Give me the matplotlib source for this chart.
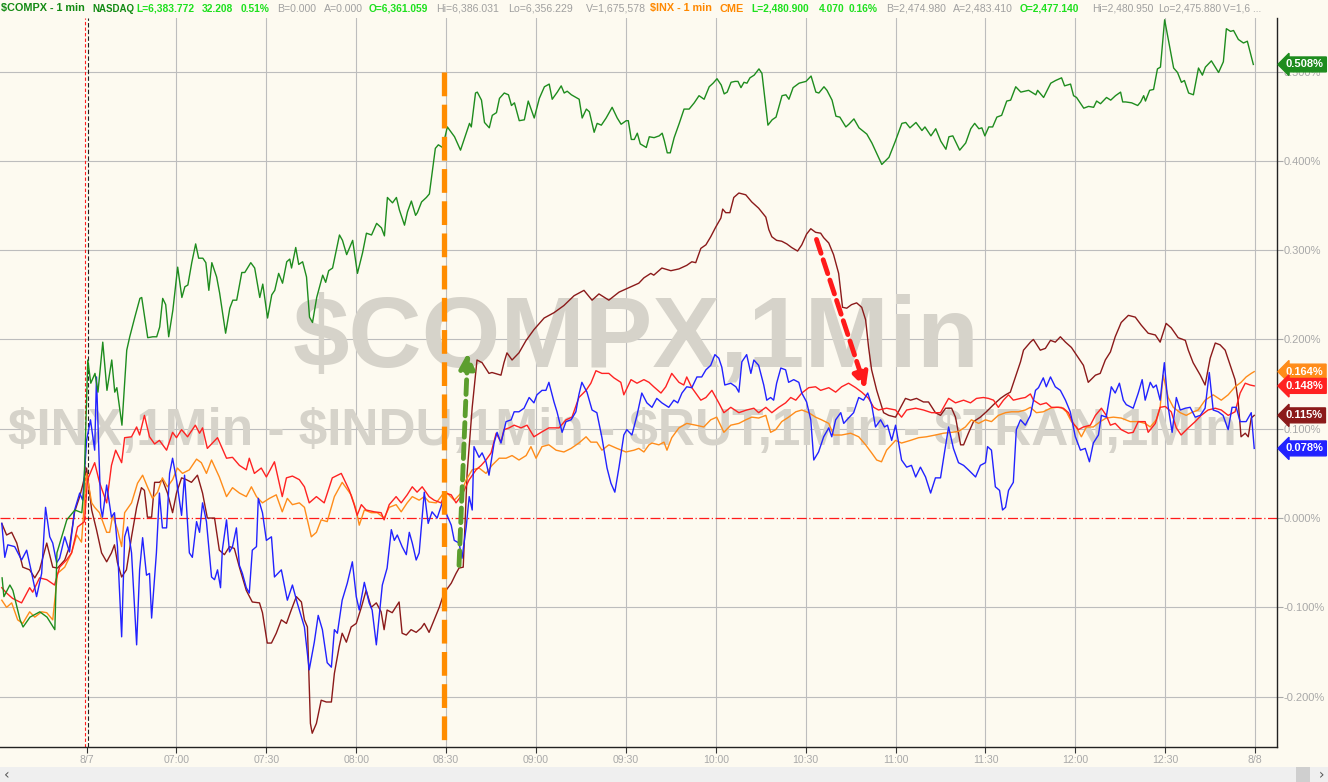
import matplotlib
matplotlib.use('Agg')
import matplotlib.pyplot as plt
from matplotlib.patches import Rectangle

# minutes after 06:00, % change from prior close
compx = [(1.8, -0.067), (2.4, -0.088), (4.4, -0.075), (5.4, -0.081), (7.8, -0.114), (8.8, -0.122),
         (11.1, -0.111), (14.4, -0.105), (16.8, -0.111), (19.4, -0.125), (20.1, -0.039), (23.4, -0.002),
         (26.1, 0.009), (28.4, 0.006), (29.1, 0.031), (30.4, 0.177), (31.4, 0.151), (32.8, 0.162),
         (33.8, 0.141), (35.4, 0.197), (36.8, 0.143), (38.4, 0.177), (39.4, 0.141), (40.1, 0.146),
         (41.8, 0.104), (43.4, 0.188), (44.4, 0.203), (46.1, 0.225), (47.8, 0.246), (48.4, 0.247),
         (50.4, 0.202), (52.1, 0.203), (53.4, 0.203), (54.4, 0.214), (55.4, 0.246), (56.4, 0.239),
         (57.4, 0.203), (58.8, 0.233), (60.4, 0.281), (61.8, 0.247), (62.8, 0.259), (63.8, 0.261),
         (65.1, 0.286), (66.4, 0.307), (67.4, 0.291), (68.8, 0.291), (69.8, 0.286), (70.8, 0.255),
         (71.8, 0.286), (73.4, 0.270), (74.4, 0.252), (76.4, 0.207), (77.8, 0.235), (78.8, 0.244),
         (80.1, 0.244), (81.8, 0.275), (82.8, 0.275), (84.8, 0.286), (86.1, 0.280), (87.8, 0.247),
         (88.8, 0.262), (90.4, 0.224), (91.8, 0.250), (92.8, 0.255), (94.1, 0.274), (95.4, 0.263),
         (96.8, 0.287), (97.8, 0.290), (98.4, 0.280), (99.8, 0.303), (100.8, 0.284), (102.1, 0.287),
         (103.4, 0.270), (104.4, 0.225), (105.4, 0.219), (106.8, 0.247), (108.8, 0.272), (109.8, 0.264),
         (110.8, 0.277), (112.1, 0.280), (114.4, 0.317), (115.4, 0.311), (116.8, 0.295), (118.8, 0.311),
         (120.4, 0.274), (122.1, 0.297), (123.4, 0.319), (125.1, 0.317), (126.8, 0.330), (128.4, 0.325),
         (129.4, 0.316), (130.4, 0.359), (132.1, 0.353), (133.4, 0.359), (134.4, 0.345), (136.1, 0.328),
         (137.1, 0.343), (138.4, 0.355), (139.8, 0.339), (140.4, 0.342), (141.8, 0.354), (143.4, 0.359),
         (144.4, 0.363), (146.4, 0.414), (147.4, 0.418), (148.8, 0.415), (150.4, 0.438), (152.8, 0.427),
         (154.8, 0.412), (155.4, 0.418), (157.8, 0.442), (158.4, 0.438), (159.8, 0.476), (160.4, 0.477),
         (161.8, 0.468), (162.8, 0.443), (164.4, 0.437), (165.4, 0.451), (166.8, 0.454), (167.8, 0.470),
         (169.4, 0.476), (170.8, 0.474), (171.8, 0.462), (172.8, 0.465), (174.4, 0.445), (176.1, 0.446),
         (177.4, 0.467), (179.4, 0.448), (181.1, 0.470), (182.8, 0.483), (184.4, 0.486), (185.4, 0.469),
         (187.1, 0.477), (188.4, 0.484), (189.4, 0.476), (190.4, 0.478), (191.8, 0.474), (193.4, 0.471),
         (194.4, 0.469), (195.4, 0.448), (196.8, 0.458), (197.8, 0.455), (199.4, 0.432), (200.4, 0.442),
         (201.8, 0.440), (203.4, 0.448), (205.4, 0.460), (207.1, 0.448), (208.4, 0.441), (210.1, 0.445),
         (210.8, 0.445), (211.8, 0.424), (212.8, 0.424), (213.8, 0.431), (214.8, 0.419), (216.8, 0.415),
         (217.8, 0.427), (219.4, 0.426), (221.1, 0.428), (222.1, 0.431), (222.8, 0.423), (223.8, 0.409),
         (224.8, 0.409), (226.1, 0.426), (227.8, 0.442), (229.4, 0.458), (231.1, 0.458), (232.8, 0.465),
         (234.4, 0.473), (236.1, 0.469), (237.8, 0.483), (239.1, 0.487), (240.4, 0.492), (241.8, 0.485),
         (242.8, 0.475), (243.8, 0.477), (245.1, 0.488), (246.4, 0.489), (247.4, 0.489), (248.4, 0.482),
         (249.4, 0.488), (250.4, 0.487), (251.4, 0.493), (252.8, 0.496), (254.4, 0.503), (255.4, 0.498),
         (257.4, 0.440), (258.8, 0.446), (260.1, 0.449), (262.1, 0.473), (263.4, 0.474), (264.4, 0.469),
         (265.8, 0.482), (267.8, 0.487), (270.1, 0.489), (271.8, 0.495), (273.4, 0.477), (274.4, 0.476),
         (276.1, 0.483), (277.1, 0.479), (278.8, 0.468), (280.1, 0.450), (281.4, 0.449), (283.4, 0.438),
         (284.4, 0.441), (286.1, 0.447), (287.8, 0.437), (290.4, 0.430), (292.1, 0.420), (295.4, 0.396),
         (297.8, 0.404), (299.8, 0.421), (302.1, 0.442), (303.4, 0.443), (304.8, 0.437), (306.8, 0.443),
         (308.8, 0.434), (309.8, 0.438), (311.8, 0.428), (313.4, 0.436), (315.1, 0.422), (316.8, 0.413),
         (317.8, 0.427), (319.1, 0.428), (321.4, 0.412), (323.4, 0.420), (325.1, 0.436), (326.4, 0.442),
         (327.8, 0.436), (328.8, 0.437), (329.8, 0.428), (331.1, 0.438), (332.4, 0.438), (333.8, 0.449),
         (335.4, 0.451), (337.1, 0.467), (338.4, 0.468), (340.1, 0.483), (341.8, 0.477), (344.4, 0.479),
         (346.8, 0.474), (347.4, 0.479), (349.4, 0.471), (351.8, 0.487), (353.4, 0.490), (355.4, 0.493),
         (356.4, 0.484), (358.4, 0.486), (359.4, 0.473), (360.4, 0.471), (362.8, 0.459), (364.4, 0.461),
         (366.1, 0.460), (367.1, 0.467), (368.4, 0.464), (370.4, 0.471), (371.8, 0.468), (373.4, 0.473),
         (375.1, 0.477), (375.8, 0.466), (376.8, 0.466), (378.8, 0.465), (380.8, 0.462), (381.8, 0.466),
         (382.8, 0.473), (383.4, 0.467), (384.8, 0.479), (386.1, 0.480), (387.4, 0.503), (388.4, 0.505),
         (389.8, 0.558), (392.8, 0.504), (394.1, 0.499), (395.4, 0.488), (396.4, 0.490), (397.8, 0.476),
         (399.4, 0.474), (401.1, 0.504), (402.4, 0.496), (403.4, 0.505), (405.4, 0.512), (407.8, 0.499),
         (409.4, 0.511), (410.4, 0.548), (411.8, 0.545), (412.8, 0.546), (414.4, 0.536), (416.1, 0.532),
         (417.4, 0.534), (419.4, 0.508)]

inx = [(1.7, -0.078), (3.3, -0.084), (5.3, -0.090), (8.3, -0.095), (11.0, -0.078), (12.0, -0.083),
       (14.3, -0.067), (16.7, -0.069), (19.3, -0.075), (21.0, -0.055), (23.3, -0.047), (25.0, -0.039),
       (27.0, -0.010), (29.3, -0.004), (30.3, 0.043), (32.7, 0.062), (34.3, 0.040), (36.7, 0.017),
       (38.3, 0.059), (39.7, 0.076), (41.7, 0.062), (42.7, 0.090), (45.0, 0.091), (46.7, 0.102),
       (47.7, 0.093), (49.3, 0.115), (51.0, 0.091), (52.7, 0.083), (54.3, 0.087), (56.7, 0.076),
       (58.7, 0.096), (60.0, 0.090), (61.7, 0.099), (63.7, 0.091), (66.3, 0.104), (67.7, 0.095),
       (68.7, 0.101), (70.3, 0.078), (72.0, 0.084), (73.7, 0.090), (76.7, 0.067), (78.7, 0.068),
       (81.0, 0.059), (83.3, 0.054), (84.3, 0.067), (86.0, 0.050), (88.3, 0.056), (90.0, 0.046),
       (92.7, 0.063), (94.3, 0.039), (95.3, 0.024), (96.7, 0.045), (98.7, 0.047), (101.0, 0.043),
       (102.7, 0.035), (104.3, 0.017), (106.7, 0.024), (109.3, 0.017), (112.0, 0.045), (115.0, 0.050),
       (117.7, 0.031), (119.3, 0.015), (120.3, 0.003), (121.7, 0.015), (123.3, 0.009), (126.0, 0.007),
       (128.3, 0.006), (129.3, -0.002), (131.0, 0.015), (133.3, 0.024), (135.0, 0.017), (137.0, 0.026),
       (138.7, 0.035), (140.3, 0.029), (142.0, 0.035), (144.3, 0.024), (146.0, 0.020), (148.3, 0.017),
       (149.7, 0.028), (151.7, 0.026), (153.3, 0.017), (155.3, 0.026), (157.7, 0.043), (160.0, 0.054),
       (161.7, 0.059), (163.3, 0.065), (165.0, 0.073), (166.7, 0.095), (168.3, 0.085), (169.3, 0.099),
       (171.0, 0.101), (172.7, 0.104), (175.0, 0.101), (177.0, 0.104), (179.3, 0.091), (181.7, 0.096),
       (184.3, 0.101), (187.7, 0.101), (190.0, 0.110), (192.0, 0.113), (194.3, 0.135), (196.7, 0.143),
       (198.3, 0.151), (200.0, 0.165), (202.0, 0.162), (204.3, 0.162), (206.0, 0.157), (208.3, 0.152),
       (209.3, 0.138), (211.7, 0.155), (213.7, 0.151), (216.0, 0.155), (217.7, 0.152), (219.3, 0.147),
       (221.7, 0.140), (223.3, 0.147), (225.3, 0.162), (227.7, 0.152), (229.3, 0.149), (230.3, 0.158),
       (232.0, 0.146), (235.0, 0.132), (236.7, 0.135), (238.7, 0.143), (241.0, 0.129), (242.7, 0.118),
       (245.0, 0.124), (247.7, 0.118), (250.3, 0.121), (252.7, 0.123), (254.3, 0.118), (256.7, 0.124),
       (258.7, 0.118), (261.0, 0.124), (263.3, 0.129), (265.0, 0.135), (266.7, 0.132), (268.7, 0.140),
       (271.0, 0.146), (273.3, 0.147), (275.0, 0.143), (277.7, 0.146), (280.0, 0.141), (282.0, 0.147),
       (284.3, 0.151), (286.7, 0.146), (288.7, 0.141), (291.0, 0.134), (292.7, 0.124), (294.3, 0.121),
       (297.0, 0.123), (300.0, 0.121), (302.0, 0.113), (303.7, 0.121), (306.7, 0.123), (309.3, 0.121),
       (312.0, 0.118), (315.0, 0.118), (317.7, 0.134), (320.0, 0.129), (322.7, 0.132), (325.0, 0.129),
       (327.0, 0.134), (329.3, 0.135), (331.0, 0.134), (332.7, 0.132), (334.3, 0.124), (336.0, 0.132),
       (337.7, 0.138), (339.3, 0.132), (341.7, 0.134), (343.3, 0.135), (345.0, 0.139), (346.0, 0.132),
       (348.3, 0.127), (350.3, 0.129), (352.0, 0.124), (354.3, 0.124), (356.0, 0.123), (357.7, 0.118),
       (359.3, 0.106), (361.0, 0.099), (362.7, 0.102), (365.0, 0.104), (366.7, 0.115), (368.7, 0.123),
       (370.3, 0.115), (371.7, 0.104), (373.3, 0.106), (375.3, 0.099), (377.7, 0.095), (379.3, 0.096),
       (381.0, 0.108), (383.3, 0.108), (384.3, 0.096), (386.7, 0.106), (388.3, 0.124), (390.0, 0.125),
       (392.0, 0.119), (393.7, 0.101), (395.3, 0.093), (397.7, 0.101), (400.0, 0.108), (402.0, 0.115),
       (404.3, 0.121), (406.7, 0.123), (408.7, 0.121), (411.0, 0.115), (413.3, 0.119), (415.0, 0.140),
       (416.7, 0.151), (418.3, 0.149), (419.7, 0.148)]

indu = [(1.7, -0.092), (3.3, -0.100), (5.0, -0.095), (7.0, -0.114), (8.7, -0.118), (11.0, -0.105),
        (12.7, -0.111), (15.0, -0.105), (16.7, -0.106), (18.7, -0.114), (20.3, -0.062), (22.7, -0.055),
        (25.0, -0.039), (26.7, -0.019), (28.3, -0.027), (30.0, 0.050), (31.7, 0.017), (32.7, 0.012),
        (34.3, 0.006), (36.7, -0.016), (37.7, -0.016), (38.7, 0.003), (40.3, -0.013), (41.7, -0.032),
        (42.7, 0.006), (45.0, 0.017), (47.0, 0.039), (48.7, 0.048), (50.3, 0.035), (52.0, 0.022),
        (53.7, 0.029), (55.3, 0.045), (57.0, 0.035), (58.7, 0.043), (60.3, 0.056), (62.0, 0.050),
        (64.3, 0.054), (66.7, 0.066), (68.3, 0.062), (70.0, 0.050), (71.7, 0.065), (74.3, 0.046),
        (76.7, 0.024), (78.7, 0.034), (81.0, 0.028), (83.3, 0.024), (85.0, 0.035), (86.7, 0.024),
        (88.7, 0.017), (91.0, 0.022), (93.3, 0.026), (95.3, 0.007), (97.0, 0.022), (98.7, 0.015),
        (101.0, 0.017), (102.7, 0.012), (105.0, -0.021), (106.7, -0.016), (108.3, -0.002), (110.3, -0.004),
        (112.7, 0.024), (115.3, 0.040), (118.3, 0.026), (120.0, 0.009), (121.0, -0.008), (122.7, 0.009),
        (125.0, 0.006), (127.0, 0.006), (129.3, 0.000), (131.0, 0.012), (133.3, 0.015), (135.0, 0.007),
        (137.0, 0.017), (138.7, 0.024), (141.0, 0.020), (142.7, 0.024), (144.3, 0.018), (146.7, 0.017),
        (148.7, 0.026), (150.3, 0.028), (152.7, 0.020), (155.0, 0.028), (156.7, 0.043), (158.7, 0.054),
        (161.0, 0.056), (163.3, 0.050), (165.3, 0.059), (167.7, 0.067), (170.0, 0.067), (172.0, 0.070),
        (174.3, 0.065), (176.7, 0.070), (178.3, 0.080), (180.0, 0.067), (182.0, 0.080), (184.3, 0.082),
        (186.7, 0.076), (189.3, 0.074), (191.7, 0.078), (194.3, 0.084), (196.7, 0.091), (198.3, 0.085),
        (200.3, 0.085), (202.0, 0.076), (204.3, 0.082), (207.0, 0.078), (210.0, 0.074), (212.7, 0.076),
        (214.3, 0.078), (216.0, 0.074), (217.7, 0.082), (218.7, 0.084), (221.0, 0.082), (222.7, 0.085),
        (223.7, 0.076), (225.3, 0.090), (227.7, 0.101), (230.3, 0.106), (233.3, 0.104), (236.0, 0.102),
        (238.3, 0.110), (240.3, 0.113), (242.7, 0.096), (245.0, 0.104), (247.7, 0.106), (250.0, 0.110),
        (252.0, 0.113), (254.3, 0.112), (256.7, 0.115), (258.3, 0.096), (260.0, 0.099), (262.0, 0.108),
        (264.3, 0.113), (266.7, 0.119), (268.7, 0.121), (271.0, 0.118), (273.3, 0.113), (275.3, 0.110),
        (277.7, 0.106), (279.3, 0.093), (282.0, 0.093), (285.0, 0.095), (287.7, 0.091), (290.0, 0.082),
        (292.0, 0.073), (293.7, 0.065), (295.3, 0.063), (297.0, 0.076), (300.0, 0.087), (302.0, 0.084),
        (305.0, 0.087), (307.7, 0.090), (310.3, 0.091), (313.3, 0.093), (316.0, 0.095), (318.7, 0.096),
        (321.0, 0.097), (323.3, 0.102), (325.3, 0.110), (327.7, 0.106), (330.0, 0.110), (332.0, 0.108),
        (334.3, 0.115), (336.7, 0.118), (338.7, 0.119), (341.0, 0.119), (343.3, 0.121), (345.0, 0.124),
        (347.0, 0.118), (349.3, 0.119), (351.7, 0.123), (353.7, 0.124), (355.3, 0.124), (357.0, 0.119),
        (358.7, 0.108), (360.3, 0.102), (362.0, 0.091), (363.7, 0.102), (366.0, 0.102), (368.3, 0.108),
        (370.3, 0.112), (372.7, 0.113), (375.3, 0.112), (378.3, 0.108), (381.0, 0.108), (383.3, 0.106),
        (385.0, 0.102), (387.0, 0.110), (388.3, 0.124), (389.3, 0.160), (391.0, 0.135), (392.7, 0.124),
        (395.0, 0.118), (397.0, 0.115), (398.7, 0.118), (401.0, 0.121), (403.3, 0.132), (406.0, 0.138),
        (408.7, 0.132), (411.0, 0.138), (413.3, 0.147), (415.3, 0.152), (417.0, 0.158), (418.7, 0.162),
        (419.7, 0.164)]

rut = [(1.7, -0.006), (3.3, -0.019), (5.0, -0.016), (6.7, -0.028), (8.7, -0.055), (11.0, -0.058),
       (12.7, -0.067), (14.3, -0.058), (16.7, -0.028), (18.7, -0.055), (20.3, -0.056), (22.7, -0.047),
       (24.3, -0.032), (26.0, 0.007), (27.7, 0.024), (28.7, 0.037), (30.0, 0.056), (31.7, 0.009),
       (33.3, -0.013), (35.0, -0.039), (36.7, -0.049), (38.3, -0.039), (39.3, -0.030), (40.3, -0.050),
       (41.7, -0.066), (43.3, -0.058), (45.0, -0.021), (46.7, 0.012), (48.3, 0.034), (49.3, 0.031),
       (50.3, 0.001), (51.7, 0.001), (52.7, 0.040), (54.3, 0.040), (55.3, 0.043), (57.0, 0.028),
       (58.7, 0.006), (60.0, 0.028), (61.7, 0.045), (63.3, 0.043), (65.0, 0.040), (67.0, 0.048),
       (68.7, 0.028), (70.3, 0.000), (72.7, 0.000), (74.3, -0.036), (76.0, -0.041), (77.7, -0.032),
       (79.3, -0.034), (81.0, -0.055), (83.3, -0.081), (85.3, -0.094), (87.7, -0.095), (88.7, -0.106),
       (90.3, -0.140), (91.7, -0.140), (93.3, -0.129), (95.0, -0.114), (96.7, -0.118), (98.3, -0.103),
       (100.0, -0.088), (101.7, -0.094), (102.7, -0.114), (103.7, -0.122), (104.7, -0.230), (105.3, -0.241),
       (106.7, -0.230), (108.3, -0.204), (110.0, -0.206), (111.7, -0.206), (112.7, -0.174), (114.3, -0.144),
       (115.3, -0.129), (116.7, -0.139), (118.3, -0.122), (120.0, -0.118), (121.7, -0.100), (123.3, -0.081),
       (125.0, -0.100), (126.7, -0.095), (128.3, -0.105), (129.3, -0.125), (130.3, -0.103), (132.0, -0.106),
       (134.3, -0.094), (135.3, -0.129), (136.7, -0.131), (138.3, -0.125), (140.0, -0.128), (141.7, -0.123),
       (142.7, -0.118), (144.3, -0.128), (146.0, -0.114), (147.7, -0.100), (149.3, -0.084), (151.7, -0.073),
       (153.3, -0.062), (154.3, -0.056), (155.7, -0.055), (157.0, 0.050), (158.7, 0.124), (160.3, 0.177),
       (162.0, 0.174), (164.3, 0.162), (165.3, 0.163), (168.3, 0.160), (169.3, 0.174), (170.3, 0.185),
       (172.0, 0.177), (174.3, 0.185), (176.7, 0.199), (179.3, 0.211), (182.7, 0.224), (186.0, 0.230),
       (189.3, 0.238), (192.7, 0.249), (196.0, 0.255), (198.7, 0.244), (201.0, 0.251), (204.3, 0.244),
       (207.7, 0.253), (211.0, 0.258), (214.3, 0.263), (216.0, 0.269), (218.3, 0.274), (219.3, 0.272),
       (222.0, 0.280), (225.0, 0.277), (227.7, 0.279), (230.3, 0.283), (232.0, 0.287), (233.3, 0.286),
       (235.0, 0.302), (236.7, 0.306), (238.3, 0.315), (240.0, 0.326), (241.7, 0.336), (242.3, 0.346),
       (243.3, 0.342), (244.7, 0.342), (246.0, 0.359), (247.7, 0.364), (250.0, 0.362), (252.0, 0.354),
       (254.3, 0.347), (256.7, 0.337), (257.7, 0.323), (258.7, 0.315), (260.3, 0.311), (262.0, 0.310),
       (263.7, 0.307), (265.3, 0.303), (267.3, 0.299), (268.7, 0.306), (270.3, 0.318), (271.7, 0.324),
       (273.3, 0.320), (275.0, 0.319), (276.0, 0.314), (277.7, 0.308), (279.3, 0.295), (281.0, 0.274),
       (282.3, 0.236), (283.7, 0.235), (285.3, 0.239), (287.0, 0.241), (288.7, 0.236), (290.0, 0.222),
       (291.0, 0.191), (292.0, 0.166), (293.7, 0.143), (296.0, 0.118), (297.7, 0.115), (300.0, 0.113),
       (301.7, 0.124), (303.3, 0.134), (305.0, 0.132), (307.0, 0.134), (309.3, 0.130), (311.0, 0.130),
       (313.3, 0.118), (315.0, 0.115), (316.7, 0.123), (318.7, 0.123), (320.0, 0.113), (321.7, 0.082),
       (322.7, 0.082), (324.3, 0.095), (326.0, 0.108), (328.3, 0.113), (330.3, 0.119), (332.7, 0.127),
       (335.0, 0.134), (336.7, 0.138), (338.3, 0.141), (340.0, 0.158), (341.7, 0.175), (342.7, 0.188),
       (345.0, 0.197), (346.0, 0.200), (348.3, 0.188), (350.0, 0.190), (351.7, 0.199), (353.3, 0.197),
       (355.0, 0.203), (356.7, 0.197), (358.7, 0.191), (360.3, 0.183), (362.7, 0.171), (364.3, 0.152),
       (366.7, 0.160), (368.3, 0.162), (370.0, 0.177), (371.7, 0.186), (373.3, 0.203), (375.3, 0.219),
       (377.7, 0.227), (380.0, 0.225), (382.0, 0.216), (384.3, 0.207), (386.7, 0.205), (388.3, 0.197),
       (390.3, 0.218), (392.0, 0.213), (394.3, 0.202), (396.7, 0.199), (397.7, 0.188), (399.3, 0.174),
       (401.7, 0.160), (403.3, 0.149), (405.0, 0.179), (406.7, 0.196), (408.3, 0.194), (410.0, 0.188),
       (411.7, 0.171), (413.3, 0.155), (414.3, 0.132), (415.3, 0.091), (416.7, 0.095), (417.7, 0.091),
       (418.7, 0.112), (419.7, 0.115)]

tran = [(1.7, -0.006), (2.7, -0.044), (3.7, -0.030), (6.0, -0.032), (8.3, -0.047), (10.0, -0.036),
        (11.7, -0.062), (13.3, -0.088), (15.0, -0.062), (16.3, 0.012), (17.7, -0.021), (18.7, -0.028),
        (20.0, -0.050), (21.0, -0.045), (22.7, -0.021), (24.3, -0.038), (26.0, 0.009), (27.7, 0.028),
        (28.7, 0.020), (30.0, 0.087), (31.3, 0.110), (32.7, 0.076), (33.3, 0.158), (34.7, 0.012),
        (35.3, 0.001), (36.7, 0.037), (38.3, 0.001), (39.3, 0.006), (40.3, -0.032), (41.7, -0.133),
        (42.7, -0.021), (43.7, -0.010), (45.0, -0.039), (46.7, -0.142), (47.7, -0.058), (48.7, -0.022),
        (50.0, -0.064), (51.0, -0.062), (51.7, -0.112), (53.3, -0.039), (54.3, 0.028), (55.3, -0.011),
        (56.7, -0.011), (57.7, 0.050), (58.7, 0.067), (60.0, 0.043), (61.7, 0.003), (62.7, 0.048),
        (64.3, -0.039), (65.3, -0.044), (66.7, -0.004), (67.7, -0.016), (68.7, 0.017), (70.0, -0.004),
        (71.7, -0.066), (72.7, -0.069), (73.7, -0.058), (74.7, -0.078), (75.3, -0.036), (76.7, -0.002),
        (77.7, -0.038), (78.7, -0.032), (80.0, -0.011), (81.0, -0.053), (82.0, -0.062), (83.3, -0.078),
        (84.3, -0.084), (85.3, -0.036), (86.7, -0.032), (87.3, 0.022), (88.7, 0.006), (90.0, -0.025),
        (91.7, -0.021), (92.7, -0.066), (95.0, -0.058), (97.0, -0.092), (98.7, -0.075), (100.3, -0.095),
        (102.7, -0.122), (104.3, -0.170), (106.0, -0.139), (107.3, -0.109), (108.7, -0.125), (110.3, -0.162),
        (111.7, -0.167), (112.7, -0.125), (113.7, -0.129), (115.3, -0.092), (117.0, -0.073), (118.7, -0.049),
        (120.0, -0.088), (121.0, -0.103), (122.7, -0.072), (124.3, -0.095), (125.3, -0.103), (126.7, -0.142),
        (128.7, -0.075), (130.3, -0.056), (131.7, -0.013), (132.7, -0.025), (133.7, -0.019), (135.3, -0.032),
        (136.7, -0.041), (137.7, -0.016), (138.7, -0.028), (140.0, -0.047), (141.0, -0.039), (142.7, 0.029),
        (144.0, -0.006), (145.3, 0.007), (147.0, 0.000), (148.7, 0.017), (150.3, 0.003), (151.7, -0.008),
        (152.7, -0.025), (154.3, -0.028), (155.3, -0.045), (156.7, -0.010), (157.7, 0.024), (158.7, 0.009),
        (159.3, 0.080), (161.0, 0.068), (162.0, 0.073), (163.3, 0.063), (164.3, 0.048), (166.0, 0.084),
        (167.0, 0.096), (168.3, 0.084), (170.0, 0.108), (171.7, 0.110), (172.7, 0.119), (174.3, 0.119),
        (176.0, 0.123), (177.7, 0.135), (179.3, 0.129), (180.3, 0.138), (182.0, 0.143), (183.3, 0.143),
        (184.3, 0.152), (186.0, 0.130), (187.0, 0.119), (188.7, 0.096), (190.0, 0.108), (191.7, 0.110),
        (193.3, 0.119), (194.3, 0.138), (195.3, 0.152), (197.0, 0.141), (198.7, 0.121), (200.3, 0.118),
        (202.0, 0.090), (203.7, 0.056), (205.0, 0.039), (206.3, 0.029), (207.7, 0.057), (209.3, 0.093),
        (210.3, 0.099), (212.0, 0.093), (213.7, 0.115), (215.3, 0.140), (217.0, 0.129), (218.7, 0.124),
        (220.3, 0.134), (222.0, 0.129), (224.3, 0.124), (226.0, 0.132), (227.3, 0.129), (228.7, 0.140),
        (230.3, 0.147), (232.0, 0.146), (233.7, 0.158), (235.3, 0.158), (236.7, 0.166), (238.3, 0.171),
        (239.7, 0.183), (241.0, 0.179), (242.0, 0.169), (243.0, 0.149), (245.0, 0.151), (246.7, 0.147),
        (247.7, 0.141), (248.7, 0.175), (250.3, 0.183), (251.7, 0.162), (252.7, 0.177), (254.3, 0.171),
        (256.0, 0.149), (257.0, 0.132), (258.3, 0.135), (259.3, 0.132), (260.3, 0.151), (261.7, 0.168),
        (263.3, 0.166), (264.3, 0.152), (266.0, 0.155), (267.7, 0.152), (268.7, 0.140), (270.3, 0.130),
        (271.7, 0.110), (272.7, 0.065), (274.3, 0.074), (276.0, 0.091), (277.7, 0.101), (278.7, 0.091),
        (280.0, 0.110), (281.7, 0.118), (282.7, 0.106), (284.3, 0.112), (286.0, 0.118), (287.7, 0.135),
        (289.3, 0.132), (290.7, 0.140), (292.0, 0.127), (293.3, 0.102), (295.0, 0.110), (296.3, 0.102),
        (297.3, 0.104), (298.7, 0.087), (300.0, 0.104), (302.0, 0.065), (303.7, 0.057), (305.3, 0.059),
        (306.7, 0.046), (308.3, 0.057), (310.0, 0.046), (311.7, 0.028), (313.3, 0.045), (315.0, 0.045),
        (316.3, 0.073), (317.7, 0.102), (319.3, 0.078), (321.0, 0.062), (322.7, 0.059), (324.3, 0.054),
        (326.7, 0.046), (328.3, 0.059), (330.0, 0.062), (330.7, 0.080), (332.0, 0.076), (333.3, 0.035),
        (334.7, 0.031), (335.7, 0.009), (336.7, 0.012), (337.7, 0.031), (339.3, 0.040), (340.3, 0.099),
        (341.7, 0.110), (343.3, 0.104), (345.0, 0.115), (346.7, 0.143), (347.7, 0.146), (349.3, 0.157),
        (350.3, 0.147), (351.7, 0.158), (353.3, 0.147), (355.0, 0.143), (356.7, 0.132), (358.3, 0.119),
        (360.0, 0.091), (361.7, 0.076), (363.3, 0.078), (364.7, 0.063), (366.0, 0.084), (367.7, 0.093),
        (368.7, 0.115), (370.3, 0.113), (372.0, 0.147), (373.3, 0.140), (374.7, 0.151), (376.0, 0.132),
        (377.0, 0.127), (379.3, 0.123), (381.0, 0.140), (382.3, 0.155), (383.3, 0.132), (385.0, 0.152),
        (386.0, 0.146), (387.0, 0.149), (388.3, 0.132), (389.7, 0.174), (391.0, 0.124), (392.3, 0.096),
        (393.7, 0.135), (395.0, 0.121), (396.7, 0.123), (398.3, 0.124), (400.0, 0.113), (401.7, 0.115),
        (403.3, 0.123), (404.7, 0.163), (406.0, 0.121), (407.7, 0.119), (409.3, 0.115), (411.0, 0.099),
        (412.3, 0.124), (413.7, 0.124), (415.0, 0.108), (417.0, 0.108), (418.7, 0.118), (419.7, 0.078)]

# last-value tags on the right axis
tag_values = [0.508, 0.164, 0.148, 0.115, 0.078]

tick_minutes = [30, 60, 90, 120, 150, 180, 210, 240, 270, 300, 330, 360, 390, 420]
tick_labels = ['8/7', '07:00', '07:30', '08:00', '08:30', '09:00', '09:30', '10:00',
               '10:30', '11:00', '11:30', '12:00', '12:30', '8/8']
pct_ticks = [-0.2, -0.1, 0.0, 0.1, 0.2, 0.3, 0.4, 0.5]

# header pieces: pixel x, text, colour, weight, size
header = [
    (1, '\\$COMPX - 1 min', '#138a13', 'bold', 7.8), (92, 'NASDAQ', '#138a13', 'bold', 7.0),
    (136, 'L=6,383.772', '#1ee01e', 'bold', 7.4), (202, '32.208', '#1ee01e', 'bold', 7.4),
    (241, '0.51%', '#1ee01e', 'bold', 7.4), (277, 'B=0.000', '#a0a0a0', 'normal', 7.6),
    (324, 'A=0.000', '#a0a0a0', 'normal', 7.6), (369, 'O=6,361.059', '#1ee01e', 'bold', 7.4),
    (436, 'Hi=6,386.031', '#a0a0a0', 'normal', 7.6), (508, 'Lo=6,356.229', '#a0a0a0', 'normal', 7.6),
    (586, 'V=1,675,578', '#a0a0a0', 'normal', 7.6), (650, '\\$INX - 1 min', '#ff8800', 'bold', 7.8),
    (720, 'CME', '#ff8800', 'bold', 7.8), (751, 'L=2,480.900', '#1ee01e', 'bold', 7.4),
    (819, '4.070', '#1ee01e', 'bold', 7.4), (849, '0.16%', '#1ee01e', 'bold', 7.4),
    (886, 'B=2,474.980', '#a0a0a0', 'normal', 7.6), (953, 'A=2,483.410', '#a0a0a0', 'normal', 7.6),
    (1020, 'O=2,477.140', '#1ee01e', 'bold', 7.4), (1092, 'Hi=2,480.950', '#a0a0a0', 'normal', 7.4),
    (1158, 'Lo=2,475.880', '#a0a0a0', 'normal', 7.4), (1223, 'V=1,6 ...', '#a0a0a0', 'normal', 7.4),
]

bg = '#fdfaf0'
cols = {'compx': '#1e8c1e', 'inx': '#ff2222', 'indu': '#ff8c1a', 'rut': '#8b1a1a', 'tran': '#2222ff'}
sans = ['Liberation Sans', 'DejaVu Sans']

W, H = 1328, 782
fig = plt.figure(figsize=(W / 100, H / 100), dpi=100, facecolor=bg)
ax = fig.add_axes([0, 1 - 747 / H, 1277 / W, (747 - 18) / H])
ax.set_facecolor(bg)
ax.set_xlim(1.1, 427.3)
ax.set_ylim(-0.2564, 0.560)

# grid
for t in tick_minutes[1:]:
    ax.axvline(t, color='#bdbdbd', lw=0.8, zorder=0)
for v in pct_ticks:
    if v != 0:
        ax.axhline(v, color='#bdbdbd', lw=0.8, zorder=0)
ax.axhline(0, color='#ff1a1a', lw=0.9, ls=(0, (8, 2, 1, 2)), zorder=1)

# day separator
ax.axvline(29.4, color='#ff1a1a', lw=0.8, ls=(0, (3, 2)), zorder=1)
ax.axvline(30.4, color='#222222', lw=0.8, ls=(0, (4, 2)), zorder=1)

# watermarks
ax.text(0.498, 0.558, '\\$COMPX,1Min', transform=ax.transAxes, ha='center', va='center',
        fontsize=73, fontweight='bold', color='#d6d3ca', family=sans, zorder=0.5)
ax.text(0.487, 0.433, '\\$INX,1Min - \\$INDU,1Min - \\$RUT,1Min - \\$TRAN,1Min',
        transform=ax.transAxes, ha='center', va='center', fontsize=37, fontweight='bold',
        color='#d6d3ca', family=sans, zorder=0.5)

# series
for name, pts in [('rut', rut), ('indu', indu), ('inx', inx), ('tran', tran), ('compx', compx)]:
    t, v = zip(*pts)
    ax.plot(t, v, color=cols[name], lw=1.0, zorder=3)

# event line at 08:30
ax.plot([149.3, 149.3], [0.5, -0.26], color='#ff8c00', lw=3.8, ls=(0, (4.5, 1.6)),
        dash_capstyle='butt', zorder=4)

# annotation arrows
ax.annotate('', xy=(157.2, 0.185), xytext=(154.3, -0.053),
            arrowprops=dict(arrowstyle='-|>,head_length=0.9,head_width=0.45', color='#5c9e2e',
                            lw=3.5, ls=(0, (3, 1.4)), shrinkA=0, shrinkB=0), zorder=5)
ax.annotate('', xy=(290.0, 0.145), xytext=(273.6, 0.312),
            arrowprops=dict(arrowstyle='-|>,head_length=0.9,head_width=0.45', color='#ff1a1a',
                            lw=3.5, ls=(0, (3, 1.4)), shrinkA=0, shrinkB=0), zorder=5)

# axes styling
for s in ['left', 'top']:
    ax.spines[s].set_visible(False)
for s in ['right', 'bottom']:
    ax.spines[s].set_color('#222222')
    ax.spines[s].set_linewidth(1.0)
ax.yaxis.tick_right()
ax.set_yticks(pct_ticks)
ax.set_yticklabels(['%.3f%%' % v for v in pct_ticks])
ax.tick_params(axis='y', colors='#a8a8a8', length=4, pad=1, labelsize=8)
ax.set_xticks(tick_minutes)
ax.set_xticklabels(tick_labels)
ax.tick_params(axis='x', colors='#a8a8a8', length=4, pad=2, labelsize=7.6)
for lab in ax.get_xticklabels() + ax.get_yticklabels():
    lab.set_family(sans)
ax.tick_params(axis='x', color='#333333')

# right-side last value tags
tag_cols = [cols['compx'], cols['indu'], cols['inx'], cols['rut'], cols['tran']]
for v, c in zip(tag_values, tag_cols):
    ax.text(1.0 + 9 / 1277, v, '%.3f%%' % v, transform=ax.get_yaxis_transform(),
            ha='left', va='center', color='white', fontsize=8, fontweight='bold',
            family=sans, clip_on=False, zorder=10,
            bbox=dict(boxstyle='larrow,pad=0.22', fc=c, ec=c))

# header
for x, s, c, wgt, fs in header:
    fig.text(x / W, 1 - 8.5 / H, s, color=c, fontsize=fs, fontweight=wgt, family=sans,
             ha='left', va='center')

# scroll bar
fig.patches.append(Rectangle((0, 0), 1, 15 / H, transform=fig.transFigure,
                             fc='#efefef', ec='none', zorder=0))
fig.patches.append(Rectangle((1296 / W, 0), 14 / W, 15 / H, transform=fig.transFigure,
                             fc='#cfcfcf', ec='none', zorder=1))
fig.text(4 / W, 7.5 / H, '\u2039', fontsize=10, color='#555555', va='center')
fig.text(1319 / W, 7.5 / H, '\u203a', fontsize=10, color='#555555', va='center')

fig.savefig('out.png', dpi=100, facecolor=bg)
